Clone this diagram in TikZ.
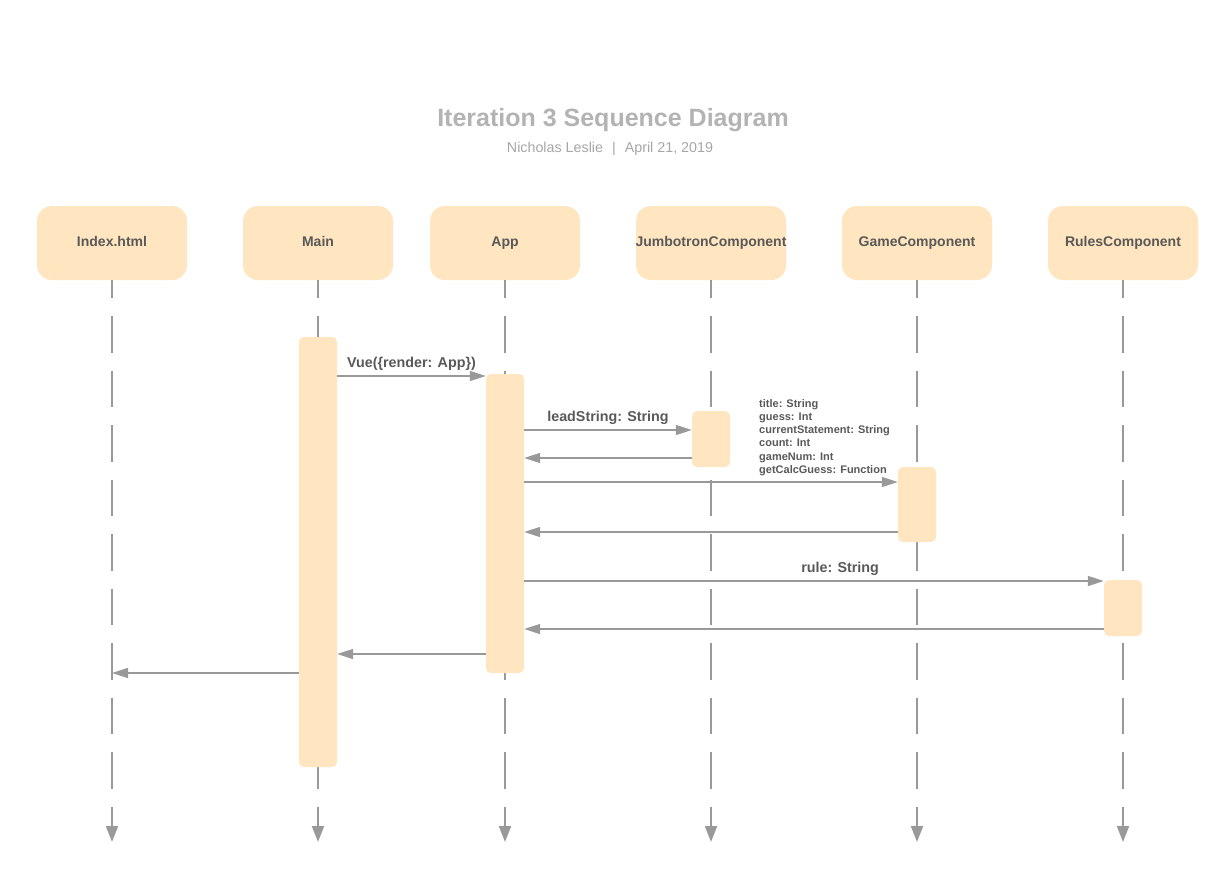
\documentclass[tikz,border=0pt]{standalone}
\usepackage{fontspec}
\setmainfont{Liberation Sans}
\usetikzlibrary{arrows.meta,positioning}

\definecolor{boxfill}{HTML}{FFE5C0}
\definecolor{linegray}{HTML}{999999}
\definecolor{labelgray}{HTML}{595959}
\definecolor{titlegray}{HTML}{B3B3B3}
\definecolor{subgray}{HTML}{A6A6A6}

\tikzset{
    actor/.style={
        fill=boxfill,
        rounded corners=15pt,
        minimum width=150pt,
        minimum height=74pt,
        text height=10pt,
        text depth=3pt,
        text=labelgray,
        font=\fontsize{14}{16}\selectfont\bfseries
    },
    actbar/.style={
        fill=boxfill,
        rounded corners=5pt,
        minimum width=38pt,
        inner sep=0pt
    },
    lifeline/.style={
        draw=linegray,
        line width=2pt,
        dash pattern=on 36.5pt off 18pt,
        dash phase=18.5pt,
        -{Triangle[length=16pt,width=12pt]}
    },
    msg/.style={
        draw=linegray,
        line width=1.5pt,
        -{Triangle[length=16pt,width=10pt]}
    },
    msglabel/.style={
        text=labelgray,
        font=\fontsize{14.3}{16}\selectfont\bfseries,
        anchor=base,
        yshift=9pt,
        inner sep=0pt
    }
}

\begin{document}
\begin{tikzpicture}[x=1pt,y=-1pt]
    \useasboundingbox (0,0) rectangle (1227,894);

    % title
    \node[text=titlegray, font=\fontsize{25}{30}\selectfont\bfseries] (title) at (613,120) {Iteration 3 Sequence Diagram};
    \node[text=subgray, font=\fontsize{14.3}{16}\selectfont] (subtitle) at (610,148.5)
        {Nicholas Leslie\hspace{9pt}|\hspace{9pt}April 21, 2019};

    % participants
    \node[actor] (index) at (112,243){Index.html};
    \node[actor] (main) at (318,243){Main};
    \node[actor] (app) at (505,243){App};
    \node[actor] (jumbo) at (711,243){\makebox[0pt]{JumbotronComponent}};
    \node[actor] (game) at (917,243){GameComponent};
    \node[actor] (rules) at (1123,243){RulesComponent};

    % lifelines
    \foreach \p in {index,main,app,jumbo,game,rules}
        \draw[lifeline] (\p.south) -- (\p.south |- 0,842);

    % activation bars
    \node[actbar, minimum height=430pt] (mainbar) at (318,552){};
    \node[actbar, minimum height=299pt] (appbar) at (505,523.5){};
    \node[actbar, minimum height=56pt] (jumbobar) at (711,439){};
    \node[actbar, minimum height=75pt] (gamebar) at (917,504.5){};
    \node[actbar, minimum height=56pt] (rulesbar) at (1123,608){};

    % messages
    \draw[msg] (mainbar.east |- 0,376) -- (appbar.west |- 0,376)
        node[midway,msglabel]{Vue(\{render: App\})};
    \draw[msg] (appbar.east |- 0,430) -- (jumbobar.west |- 0,430)
        node[midway,msglabel]{leadString: String};
    \draw[msg] (jumbobar.west |- 0,458) -- (appbar.east |- 0,458);
    \draw[msg] (appbar.east |- 0,482) -- (gamebar.west |- 0,482);
    \node[text=labelgray, font=\fontsize{11}{13.3}\selectfont\bfseries,
        align=left, anchor=west, inner sep=0pt] (props) at (759,437.5)
        {title: String\\guess: Int\\currentStatement: String\\count: Int\\gameNum: Int\\getCalcGuess: Function};
    \draw[msg] (gamebar.west |- 0,532) -- (appbar.east |- 0,532);
    \draw[msg] (appbar.east |- 0,581) -- (rulesbar.west |- 0,581)
        node[pos=0.545,msglabel]{rule: String};
    \draw[msg] (rulesbar.west |- 0,629) -- (appbar.east |- 0,629);
    \draw[msg] (appbar.west |- 0,654) -- (mainbar.east |- 0,654);
    \draw[msg] (mainbar.west |- 0,673) -- (index.south |- 0,673);
\end{tikzpicture}
\end{document}
